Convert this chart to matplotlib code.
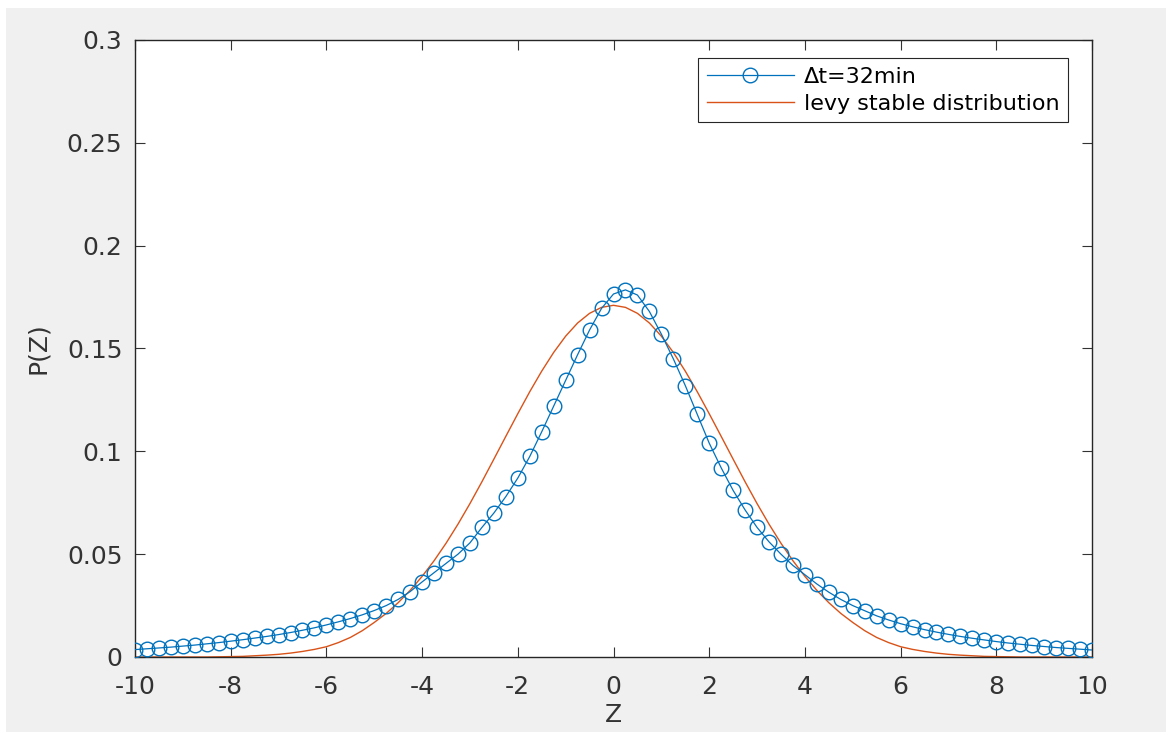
import numpy as np
import matplotlib.pyplot as plt
from matplotlib.patches import Rectangle

plt.rcParams["axes.unicode_minus"] = False
plt.rcParams["font.family"] = "DejaVu Sans"

# Z grid for both series (step 0.25)
z = np.arange(-10, 10.001, 0.25)

# empirical distribution, dt = 32 min
p_data = [
    0.0036, 0.0040, 0.0044, 0.0048, 0.0053, 0.0058, 0.0064, 0.0070, 0.0077,
    0.0084, 0.0092, 0.0100, 0.0109, 0.0119, 0.0130, 0.0142, 0.0156,
    0.0171, 0.0187, 0.0205, 0.0226, 0.0250, 0.0280, 0.0318, 0.0365,
    0.0410, 0.0455, 0.0500, 0.0555, 0.0630, 0.0700, 0.0780, 0.0870,
    0.0975, 0.1095, 0.1220, 0.1345, 0.1470, 0.1590, 0.1695, 0.1765,
    0.1785, 0.1760, 0.1680, 0.1570, 0.1450, 0.1320, 0.1180, 0.1040,
    0.0920, 0.0810, 0.0715, 0.0630, 0.0560, 0.0500, 0.0445, 0.0400,
    0.0355, 0.0315, 0.0280, 0.0250, 0.0225, 0.0200, 0.0180, 0.0162,
    0.0147, 0.0133, 0.0121, 0.0110, 0.0100, 0.0091, 0.0083, 0.0075,
    0.0068, 0.0062, 0.0056, 0.0051, 0.0046, 0.0042, 0.0038, 0.0034,
]

# fitted levy stable curve, Z from -10 to 0 (mirrored for Z > 0)
p_levy_half = [
    0.0000, 0.0000, 0.0000, 0.0000, 0.0000, 0.0000, 0.0000, 0.0001, 0.0002,
    0.0003, 0.0006, 0.0009, 0.0013, 0.0019, 0.0027, 0.0037, 0.0050,
    0.0070, 0.0095, 0.0128, 0.0168, 0.0212, 0.0264, 0.0324, 0.0392,
    0.0468, 0.0553, 0.0646, 0.0746, 0.0852, 0.0962, 0.1073, 0.1183,
    0.1290, 0.1390, 0.1481, 0.1560, 0.1624, 0.1671, 0.1700, 0.1710,
]
p_levy = p_levy_half + p_levy_half[-2::-1]

fig = plt.figure(figsize=(11.66, 7.32), dpi=100, facecolor="white")
# grey window background with a thin white margin on top/left
fig.patches.append(Rectangle((6 / 1166, 0), 1, 1 - 8 / 732, transform=fig.transFigure,
                             facecolor="#f0f0f0", edgecolor="none", zorder=-10))

ax = fig.add_axes([135 / 1166, 1 - 657 / 732, (1092 - 135) / 1166, (657 - 40) / 732])
ax.set_facecolor("white")

ax.plot(z, p_data, color="#0072BD", lw=0.9, marker="o", markersize=10.5,
        markerfacecolor="none", markeredgewidth=1.0, label="Δt=32min", zorder=3)
ax.plot(z, p_levy, color="#D95319", lw=1.0, label="levy stable distribution", zorder=2)

ax.set_xlim(-10, 10)
ax.set_ylim(0, 0.3)
ax.set_xticks(np.arange(-10, 11, 2))
ax.set_yticks([0, 0.05, 0.1, 0.15, 0.2, 0.25, 0.3])
ax.set_yticklabels(["0", "0.05", "0.1", "0.15", "0.2", "0.25", "0.3"])

ax.tick_params(direction="in", top=True, right=True, length=7, width=0.8,
               labelsize=18, colors="#333333")
ax.tick_params(axis="x", pad=13)
ax.tick_params(axis="y", pad=9)
for sp in ax.spines.values():
    sp.set_color("#262626")
    sp.set_linewidth(1.0)

ax.set_xlabel("Z", fontsize=18, color="#333333", labelpad=3)
ax.set_ylabel("P(Z)", fontsize=18, color="#333333", labelpad=12)

leg = ax.legend(loc="upper right", bbox_to_anchor=(0.975, 0.9708), borderaxespad=0,
                prop={"size": 16}, fancybox=False, framealpha=1, edgecolor="#262626",
                borderpad=0.4, handlelength=3.9, handletextpad=0.45, labelspacing=0.3)
leg.get_frame().set_linewidth(0.8)

fig.savefig("out.png", dpi=100, facecolor=fig.get_facecolor())
